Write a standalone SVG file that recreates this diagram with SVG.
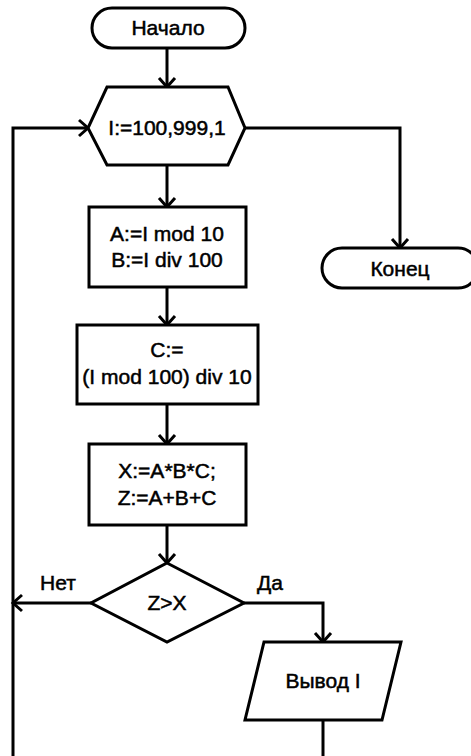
<svg xmlns="http://www.w3.org/2000/svg" width="471" height="756" viewBox="0 0 471 756">
<style>
.s{fill:#fff;stroke:#000;stroke-width:3;stroke-linejoin:miter}
.c{fill:none;stroke:#000;stroke-width:3}
text{font-family:"Liberation Sans",Arial,sans-serif;font-size:21px;fill:#000;stroke:#000;stroke-width:0.5;text-anchor:middle}
.l{text-anchor:start}
</style>
<defs>
<marker id="a" markerUnits="userSpaceOnUse" markerWidth="24" markerHeight="24" viewBox="-12 -12 24 24" refX="0" refY="0" orient="auto">
<path d="M-9,-8 L0,0 L-9,8" fill="none" stroke="#000" stroke-width="3"/>
</marker>
</defs>
<rect width="471" height="756" fill="#fff"/>
<g id="connectors">
<path class="c" d="M167,48 V87" marker-end="url(#a)"/>
<path class="c" d="M167,165 V207" marker-end="url(#a)"/>
<path class="c" d="M167,287 V325" marker-end="url(#a)"/>
<path class="c" d="M167,404 V444" marker-end="url(#a)"/>
<path class="c" d="M167,525 V563" marker-end="url(#a)"/>
<path class="c" d="M245,128 H400 V248" marker-end="url(#a)"/>
<path class="c" d="M91,603 H13" marker-end="url(#a)"/>
<path class="c" d="M244,603 H323 V642" marker-end="url(#a)"/>
<path class="c" d="M323,720 V760"/>
<path class="c" d="M13,760 V128 H88" marker-end="url(#a)"/>
<text class="l" x="40" y="590">Нет</text>
<text class="l" x="257" y="590">Да</text>
</g>
<g id="start">
<rect class="s" x="92" y="8" width="153" height="40" rx="20"/>
<text x="168" y="35">Начало</text>
</g>
<g id="loop">
<polygon class="s" points="107,87 228,87 245,128 228,165 107,165 88,128"/>
<text x="167" y="135">I:=100,999,1</text>
</g>
<g id="end">
<rect class="s" x="322" y="248" width="156" height="40" rx="20"/>
<text x="400" y="276">Конец</text>
</g>
<g id="boxA">
<rect class="s" x="89" y="207" width="157" height="80"/>
<text x="167" y="241">A:=I mod 10</text>
<text x="167" y="267">B:=I div 100</text>
</g>
<g id="boxC">
<rect class="s" x="77" y="325" width="181" height="79"/>
<text x="167" y="357">C:=</text>
<text x="167" y="384">(I mod 100) div 10</text>
</g>
<g id="boxX">
<rect class="s" x="89" y="444" width="157" height="81"/>
<text x="167" y="478">X:=A*B*C;</text>
<text x="167" y="505">Z:=A+B+C</text>
</g>
<g id="decision">
<polygon class="s" points="167,563 244,603 167,642 91,603"/>
<text x="167" y="610">Z&gt;X</text>
</g>
<g id="output">
<polygon class="s" points="264,642 401,642 382,720 245,720"/>
<text x="323" y="688">Вывод I</text>
</g>
</svg>
